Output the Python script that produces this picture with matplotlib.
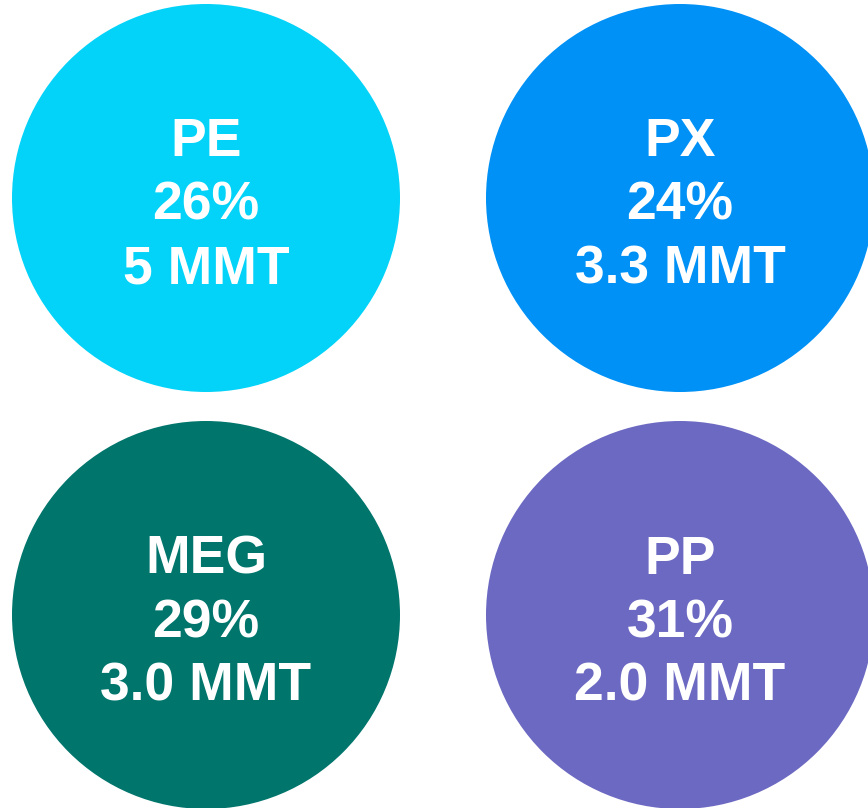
import matplotlib
matplotlib.use("Agg")
import matplotlib.pyplot as plt
from matplotlib.patches import Circle

products = ["PE", "PX", "MEG", "PP"]
shares = [26, 24, 29, 31]
volumes = ["5", "3.3", "3.0", "2.0"]
colors = ["#03D3F8", "#0091F6", "#00756C", "#6C69C2"]

# grid placement (pixel units, y downwards)
centers_x = [206, 680, 206, 680]
centers_y = [198, 198, 615, 615]
radius = 194

fig = plt.figure(figsize=(8.68, 8.08), dpi=100)
ax = fig.add_axes([0, 0, 1, 1])
ax.set_xlim(0, 868)
ax.set_ylim(808, 0)
ax.set_aspect("equal")
ax.axis("off")

line_gap = 63.5
for i, name in enumerate(products):
    cx, cy = centers_x[i], centers_y[i]
    ax.add_patch(Circle((cx, cy), radius, color=colors[i], lw=0))
    lines = [name, "{}%".format(shares[i]), "{} MMT".format(volumes[i])]
    for k, txt in enumerate(lines):
        ax.text(cx, cy + 22 + (k - 1) * line_gap, txt, ha="center", va="baseline",
                color="white", fontsize=38.5, fontweight="bold",
                family="Liberation Sans")

fig.savefig("out.png", dpi=100)
